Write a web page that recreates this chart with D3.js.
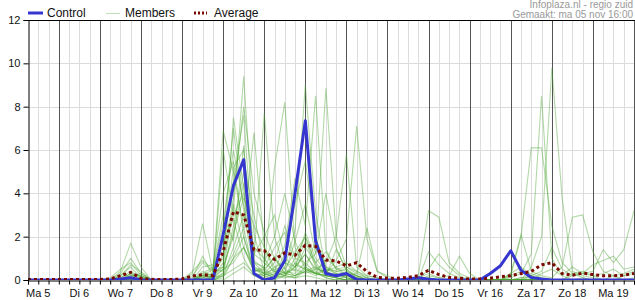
<!DOCTYPE html>
<html lang="nl">
<head>
<meta charset="UTF-8">
<script src="https://d3js.org/d3.v7.min.js"></script>
<title>Neerslag pluim</title>
<style>
  body { margin: 0; background: #fff; }
  text { font-family: "Liberation Sans", Arial, sans-serif; }
</style>
</head>
<body>
<div id="chart"></div>
<script>
// hours since Ma 5 00:00, one value every 6 hours from Ma 5 06:00 to Di 20 00:00
const startHour = 6;
const stepHours = 6;

const dayLabels = ["Ma 5", "Di 6", "Wo 7", "Do 8", "Vr 9", "Za 10", "Zo 11", "Ma 12",
  "Di 13", "Wo 14", "Do 15", "Vr 16", "Za 17", "Zo 18", "Ma 19"];
const yTicks = [0, 2, 4, 6, 8, 10, 12];

// groups: Ma5 (06,12,18) | then per day 00,06,12,18 | Di20 00
const control = [0, 0, 0, 0, 0, 0, 0, 0, 0, 0.05, 0.1, 0, 0, 0, 0, 0, 0, 0, 0,
  2.1, 4.35, 5.55, 0.3, 0, 0.1, 0.9, 4.0, 7.35, 1.8, 0.3, 0.2,
  0.3, 0.02, 0, 0, 0, 0, 0.05, 0.1, 0.03, 0, 0, 0, 0, 0, 0.3, 0.66,
  1.35, 0.45, 0.12, 0.05, 0, 0, 0, 0, 0, 0, 0, 0, 0];

const average = [0.02, 0.02, 0.02, 0.02, 0.02, 0.02, 0.02, 0.02, 0.05, 0.2, 0.35, 0.08, 0.03, 0.02, 0.02,
  0.05, 0.18, 0.25, 0.2, 1.3, 3.15, 3.0, 1.4, 1.35, 0.95, 1.25, 1.15, 1.6, 1.55, 0.92, 0.88,
  0.65, 0.8, 0.38, 0.12, 0.08, 0.08, 0.12, 0.2, 0.45, 0.25, 0.12, 0.08, 0.05, 0.05, 0.08, 0.15,
  0.2, 0.3, 0.4, 0.7, 0.8, 0.3, 0.22, 0.32, 0.25, 0.2, 0.2, 0.22, 0.3];

const m01 = [0,0,0, 0,0,0,0, 0,0,0.4,1.7, 0.6,0,0,0, 0,0,0.2,0.1, 0.8,3.2,9.4,2.1, 0.4,1.1,0.3,0.6, 1.2,0.4,0.1,0, 0.2,0,0,0, 0,0,0,0, 0,0,0,0, 0,0,0,0, 0,0.1,0.2,0, 0,0,0,0, 0,0,0,0, 0];
const m02 = [0,0,0, 0,0,0,0, 0,0,0.3,1.0, 0.3,0,0,0, 0,0.3,2.6,0.4, 0.6,7.5,4.2,0.5, 0.2,0,0.6,2.3, 9.0,3.1,0.4,0.2, 0.3,0.1,0,0, 0,0,0,0, 0.1,0,0,0, 0,0,0,0, 0.2,0.4,0.3,0.1, 0,0,0,0.1, 0,0,0.2,0, 0.1];
const m03 = [0,0,0, 0,0,0,0, 0,0.1,0.5,0.8, 0.2,0,0,0, 0,0.1,1.1,0.2, 6.9,5.0,2.4,6.8, 1.5,0.4,0.2,1.0, 2.0,0.8,1.3,0.5, 0.4,0.2,0.1,0, 0,0,0,0.1, 0.3,0.1,0,0, 0,0,0,0, 0,0,0,0, 0,0,0,0, 0,0,0,0, 0];
const m04 = [0,0,0, 0,0,0,0, 0,0,0.2,0.6, 0.1,0,0,0, 0,0,0.6,0.7, 1.5,4.5,7.6,1.0, 7.7,2.0,0.5,0.2, 0.6,0.3,0.2,1.4, 0.5,0.2,0,0, 0,0,0,0, 0,0,0,0, 0,0,0,0, 0,0.1,0.1,0, 0,0,0,0, 0,0,0,0, 0];
const m05 = [0,0,0, 0,0,0,0, 0,0,0.1,0.4, 0.1,0,0,0, 0,0.2,0.8,0.4, 2.6,6.0,3.5,0.8, 0.6,5.2,8.2,1.5, 0.5,0.3,0.2,0.1, 0,0,0,0, 0,0,0,0, 0,0,0,0, 0,0,0,0, 0,0,0,0, 0,0,0,0, 0,0,0,0, 0];
const m06 = [0,0,0, 0,0,0,0, 0,0,0,0.3, 0.2,0,0,0, 0,0,0.3,0.6, 4.0,5.5,2.0,0.3, 0.2,0.4,1.6,4.7, 2.5,8.5,1.4,0.5, 0.6,0.3,0.1,0, 0,0,0,0, 0,0,0,0, 0,0,0,0, 0.3,0.6,0.2,0, 0,0,0.2,0.3, 0.2,0,0,0.2, 0.3];
const m07 = [0,0,0, 0,0,0,0, 0,0,0,0.2, 0.3,0,0,0, 0,0.4,0.9,0.5, 3.0,1.8,6.2,0.5, 0.3,0.8,2.5,1.0, 0.8,1.2,8.85,2.0, 0.6,0.4,0.1,0, 0,0,0,0, 0.1,0,0,0, 0,0,0,0, 0,0,0,0, 0,0,0,0, 0,0,0,0, 0];
const m08 = [0,0,0, 0,0,0,0, 0,0,0.2,0.7, 0.4,0,0,0, 0,0,0.1,0.2, 2.0,7.0,3.2,1.5, 1.0,0.3,0.8,0.6, 1.8,0.6,0.3,0.9, 1.9,7.1,1.9,0.4, 0.1,0,0,0, 0,0,0,0, 0,0,0,0, 0,0,0,0, 0,0,0,0, 0,0,0,0, 0];
const m09 = [0,0,0, 0,0,0,0, 0,0,0,0.2, 0.1,0,0,0, 0,0,0.1,0.3, 1.0,3.8,8.0,4.0, 2.2,1.0,0.3,0.2, 0.4,0.2,0.5,0.3, 0.2,0.3,2.4,0.4, 0.2,0,0,0, 0,0,0,0, 0,0,0,0, 0,0,0,0, 0,0,0,0, 0,0,0,0, 0];
const m10 = [0,0,0, 0,0,0,0, 0,0,0.1,0.3, 0,0,0,0, 0,0,0.2,0.1, 0.3,2.5,5.0,0.9, 0.5,0.2,1.2,3.5, 5.5,2.0,0.6,0.4, 0.5,0.1,0,0, 0,0,0,0, 0,0,0,0, 0,0,0,0, 0.1,0.3,1.2,8.5, 1.0,0.2,0,0, 0,0,0,0, 0];
const m11 = [0,0,0, 0,0,0,0, 0,0,0,0.1, 0,0,0,0, 0,0,0,0.2, 0.6,2.0,4.5,1.2, 0.8,0.4,0.2,0.6, 1.2,0.5,0.8,2.0, 5.8,0.6,0.2,0.1, 0,0,0,0, 0,0,0,0, 0,0,0,0, 0,0,0.6,2.0, 9.8,3.8,0.4,0.2, 0.1,0,0,0, 0];
const m12 = [0,0,0, 0,0,0,0, 0,0,0,0, 0,0,0,0, 0,0,0,0.1, 0.2,1.5,3.0,0.6, 0.3,0.1,0.4,0.3, 0.8,0.3,0.5,0.4, 0.3,0.2,0,0, 0,0,0,0.2, 3.2,2.9,0.8,0.3, 0.1,0,0,0, 0,0,0,0, 0,0,0,0, 0,0,0,0, 0];
const m13 = [0,0,0, 0,0,0,0, 0,0,0,0.2, 0.1,0,0,0, 0,0,0.2,0.5, 0.4,1.2,2.4,0.3, 0.2,0.6,0.8,0.4, 1.5,0.8,0.3,0.2, 0.1,0,0,0, 0,0,0,0, 1.3,0.7,0.3,0.1, 0,0,0,0, 0.2,2.0,6.1,6.1, 2.5,0.8,0.3,0.1, 0,0,0,0, 0];
const m14 = [0,0,0, 0,0,0,0, 0,0,0,0, 0,0,0,0, 0,0,0,0, 0.1,1.0,2.0,0.5, 0.3,0.2,0.1,0.2, 0.5,0.3,0.2,0.1, 0,0,0,0, 0,0,0,0, 0,0,0,0, 0,0,0,0, 0.3,2.1,0.4,0.2, 0.1,0.6,2.9,3.0, 1.3,0.4,0.2,0.3, 0.5];
const m15 = [0,0,0, 0,0,0,0, 0,0,0,0.1, 0,0,0,0, 0,0,0,0, 0.3,3.5,1.5,0.4, 0.5,1.0,0.5,1.3, 2.0,0.7,0.2,0.3, 0.1,0,0,0, 0,0,0,0, 0,0,0,0, 0,0,0,0, 0,0,0,0.3, 0.5,0.2,0.6,0.3, 0.4,1.4,0.8,1.4, 3.2];
const m16 = [0,0,0, 0,0,0,0, 0,0,0,0, 0,0,0,0, 0,0,0.4,0.2, 1.8,2.8,1.0,0.2, 0.3,0.5,0.3,0.2, 0.4,0.6,0.2,0.1, 0,0,0,0, 0,0,0,0, 0.5,1.2,0.6,0.2, 0,0,0,0, 0,0,0,0, 0,0,0.3,0.4, 0.2,0.3,0.5,0.2, 0.4];
const m17 = [0,0,0, 0,0,0,0, 0,0,0,0, 0,0,0,0, 0,0,0,0.1, 0.5,0.8,1.5,0.6, 0.4,0.2,0.3,0.5, 0.3,0.5,0.4,0.6, 0.8,0.4,0.2,0.1, 0,0,0,0, 0.2,0.1,0.2,1.1, 0.3,0,0,0, 0,0,0,0, 0,0,0,0, 0,0,0,0, 0];
const m18 = [0,0,0, 0,0,0,0, 0,0,0,0, 0,0,0,0, 0,0,0,0, 0.2,0.5,0.8,0.3, 0.1,0.3,0.2,0.1, 0.2,0.1,0,0, 0,0,0,0, 0,0,0,0, 0,0,0,0, 0,0,0,0, 0,0,0,0, 0,0,0,0, 0,0,0,0, 0];
const m19 = [0,0,0, 0,0,0,0, 0,0,0,0, 0,0,0,0, 0,0,0,0, 0,0.3,0.6,0.2, 0,0,0.2,0.1, 0.4,0.3,0.1,0, 0,0,0,0, 0,0,0,0, 0,0,0,0, 0,0,0,0, 0,0,0.2,0.4, 1.5,0.5,0.2,0.3, 0.7,0.9,1.1,0.5, 0.6];
const m20 = [0,0,0, 0,0,0,0, 0,0,0,0.3, 0.2,0,0,0, 0,0,0.3,0.2, 6.0,3.0,4.0,1.2, 2.0,3.0,1.0,0.6, 2.2,1.0,0.4,0.2, 0.2,0.1,0,0, 0,0,0,0, 0,0,0,0, 0,0,0,0, 0,0,0,0, 0,0,0,0, 0,0,0,0, 0];
const m21 = [0,0,0, 0,0,0,0, 0,0,0,0, 0,0,0,0, 0,0,0.2,0.3, 2.0,4.5,5.5,3.0, 0.8,2.0,4.0,1.8, 0.6,0.3,0.2,0.1, 0,0,0,0, 0,0,0,0, 0,0,0,0, 0,0,0,0, 0,0,0,0, 0,0,0,0, 0,0,0,0, 0];
const m22 = [0,0,0, 0,0,0,0, 0,0,0,0.1, 0,0,0,0, 0,0,0,0.1, 0.5,2.2,3.8,2.5, 1.5,0.6,0.3,1.8, 3.5,1.2,4.0,1.5, 0.4,0.2,0,0, 0,0,0,0, 0,0,0,0, 0,0,0,0, 0,0,0,0, 0,0,0,0, 0,0,0,0, 0];
const m23 = [0,0,0, 0,0,0,0, 0,0,0,0, 0,0,0,0, 0,0,0.1,0.2, 1.2,5.2,6.0,0.8, 0.3,0.1,0.2,0.8, 0.5,1.8,0.6,0.3, 0.1,0,0,0, 0,0,0,0, 0,0,0,0, 0,0,0,0, 0,0,0,0, 0,0,0,0, 0,0,0,0, 0];
const m24 = [0,0,0, 0,0,0,0, 0,0,0,0, 0,0,0,0, 0,0,0,0, 0.2,1.0,1.5,0.4, 0.6,1.5,2.2,0.7, 0.5,0.3,1.0,0.6, 0.2,0.1,0,0, 0,0,0,0, 0,0,0,0, 0,0,0,0, 0,0,0,0, 0,0,0,0, 0,0,0,0, 0];
const members = [m01, m02, m03, m04, m05, m06, m07, m08, m09, m10, m11, m12,
  m13, m14, m15, m16, m17, m18, m19, m20, m21, m22, m23, m24];

const W = 635, H = 300;
const plotLeft = 28, plotRight = 634, plotTop = 20, plotBottom = 280;

const svg = d3.select("#chart").append("svg")
  .attr("width", W).attr("height", H);

const x = d3.scaleLinear().domain([startHour, 360]).range([plotLeft, plotRight]);
const y = d3.scaleLinear().domain([0, 12]).range([plotBottom, plotTop]);

const hourOf = i => startHour + i * stepHours;

// grid: 6-hourly light lines, day boundaries dark
const sixHours = d3.range(12, 360, 6);
svg.append("g").selectAll("line").data(sixHours.filter(h => h % 24 !== 0)).enter()
  .append("line")
  .attr("x1", d => Math.round(x(d)) + 0.5).attr("x2", d => Math.round(x(d)) + 0.5)
  .attr("y1", plotTop).attr("y2", plotBottom)
  .attr("stroke", "#dcdcdc");

svg.append("g").selectAll("line").data(yTicks.filter(d => d > 0)).enter()
  .append("line")
  .attr("x1", plotLeft).attr("x2", plotRight)
  .attr("y1", d => Math.round(y(d)) + 0.5).attr("y2", d => Math.round(y(d)) + 0.5)
  .attr("stroke", "#dcdcdc");

svg.append("g").selectAll("line").data(d3.range(24, 361, 24)).enter()
  .append("line")
  .attr("x1", d => Math.round(x(d)) + 0.5).attr("x2", d => Math.round(x(d)) + 0.5)
  .attr("y1", plotTop).attr("y2", plotBottom)
  .attr("stroke", "#555");

svg.append("clipPath").attr("id", "plot")
  .append("rect").attr("x", plotLeft).attr("y", plotTop - 2)
  .attr("width", plotRight - plotLeft + 1).attr("height", plotBottom - plotTop + 2);

const line = d3.line()
  .x((d, i) => x(hourOf(i)))
  .y(d => y(d));

const plot = svg.append("g").attr("clip-path", "url(#plot)");

plot.selectAll(".member").data(members).enter()
  .append("path")
  .attr("class", "member")
  .attr("d", line)
  .attr("fill", "none")
  .attr("stroke", "#4aa530")
  .attr("stroke-opacity", 0.42)
  .attr("stroke-width", 1.1);

plot.append("path")
  .attr("d", line(control))
  .attr("fill", "none")
  .attr("stroke", "#3535d0")
  .attr("stroke-width", 3)
  .attr("stroke-linejoin", "round");

plot.append("path")
  .attr("d", line(average))
  .attr("fill", "none")
  .attr("stroke", "#7a0a00")
  .attr("stroke-width", 3)
  .attr("stroke-dasharray", "3,3");

// frame
svg.append("line").attr("x1", plotLeft).attr("x2", plotRight + 1)
  .attr("y1", plotTop + 0.5).attr("y2", plotTop + 0.5).attr("stroke", "#000");

// axes
const yAxis = svg.append("g")
  .attr("transform", "translate(" + (plotLeft + 0.5) + ",0)")
  .call(d3.axisLeft(y).tickValues(yTicks).tickSize(5).tickPadding(3));
yAxis.select(".domain").attr("stroke", "#000");
yAxis.selectAll("text").attr("font-size", 11).attr("fill", "#111")
  .style("font-family", "'Liberation Sans', Arial, sans-serif");

const xAxis = svg.append("g")
  .attr("transform", "translate(0," + (plotBottom + 0.5) + ")")
  .call(d3.axisBottom(x).tickValues(d3.range(6, 361, 6)).tickSize(4).tickFormat(""));
xAxis.select(".domain").attr("stroke", "#000");

svg.append("g").selectAll("text").data(dayLabels).enter()
  .append("text")
  .attr("x", (d, i) => x(12 + 24 * i))
  .attr("y", 297)
  .attr("text-anchor", "middle")
  .attr("font-size", 11)
  .attr("fill", "#111")
  .text(d => d);

// legend
const legend = [
  { name: "Control", text: 47 },
  { name: "Members", text: 125 },
  { name: "Average", text: 214 }
];
const lg = svg.append("g");
lg.append("line").attr("x1", 28).attr("x2", 43).attr("y1", 13).attr("y2", 13)
  .attr("stroke", "#3535d0").attr("stroke-width", 3);
lg.append("line").attr("x1", 106).attr("x2", 120).attr("y1", 13.5).attr("y2", 13.5)
  .attr("stroke", "#4aa530").attr("stroke-opacity", 0.35);
lg.append("line").attr("x1", 194).attr("x2", 207).attr("y1", 13).attr("y2", 13)
  .attr("stroke", "#7a0a00").attr("stroke-width", 3).attr("stroke-dasharray", "2,2");
lg.selectAll("text").data(legend).enter()
  .append("text")
  .attr("x", d => d.text).attr("y", 17)
  .attr("font-size", 12).attr("fill", "#111")
  .text(d => d.name);

svg.append("text").attr("x", 633).attr("y", 8)
  .attr("text-anchor", "end").attr("font-size", 10).attr("fill", "#999")
  .text("Infoplaza.nl - regio zuid");
svg.append("text").attr("x", 633).attr("y", 18)
  .attr("text-anchor", "end").attr("font-size", 10).attr("fill", "#999")
  .text("Gemaakt: ma 05 nov 16:00");
</script>
</body>
</html>
